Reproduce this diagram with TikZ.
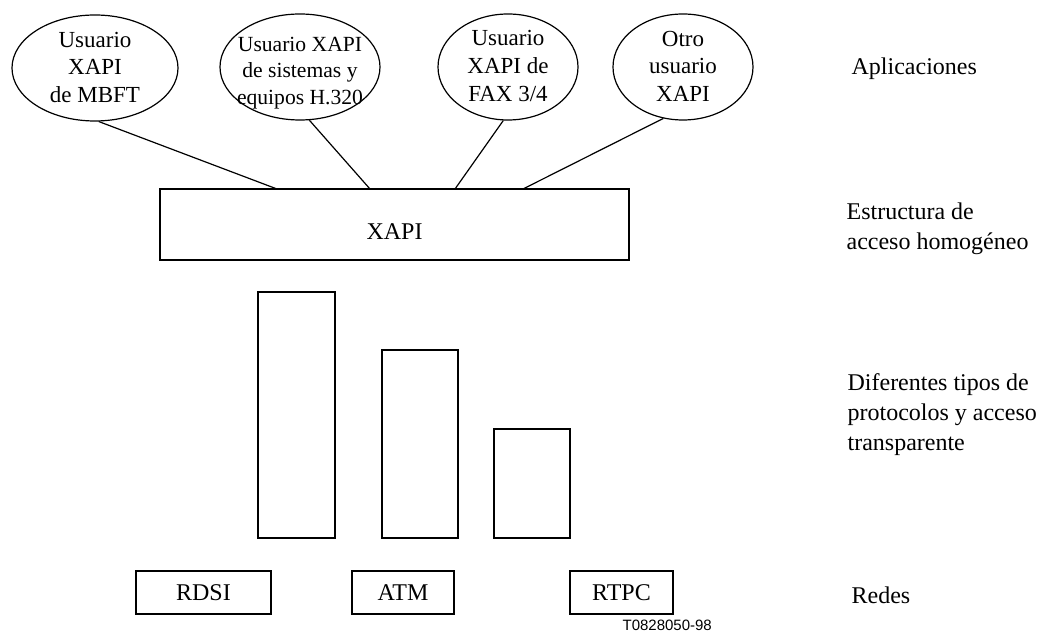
\documentclass[tikz,border=0pt]{standalone}
\usepackage{fontspec}
\setmainfont{Liberation Serif}
\newfontfamily\codefont{Liberation Sans}
\usetikzlibrary{shapes.geometric}
\begin{document}
\begin{tikzpicture}[x=0.5pt,y=-0.5pt,
  line width=0.6pt,
  app/.style={draw, ellipse, inner sep=0pt, minimum height=53pt},
  apptext/.style={inner sep=0pt, align=center, font=\fontsize{11.5}{13.8}\selectfont},
  box/.style={draw, rectangle, inner sep=0pt, font=\fontsize{12}{14}\selectfont},
  lbl/.style={anchor=north west, inner sep=0pt, align=left,
    font=\fontsize{12}{15}\selectfont}]
\useasboundingbox (0,0) rectangle (1039,635);

% application ellipses
\node[app, minimum width=83pt] (e1) at (95,68) {};
\node[app, minimum width=80pt] (e2) at (300,67) {};
\node[app, minimum width=70pt] (e3) at (508,67) {};
\node[app, minimum width=70pt] (e4) at (683,67) {};
\node[apptext] (e1t) at ([yshift=0.3pt]e1.center) {Usuario\\XAPI\\de MBFT};
\node[apptext, font=\fontsize{10.8}{13.2}\selectfont] (e2t) at ([yshift=-3pt]e2.center)
  {Usuario XAPI\\de sistemas y\\equipos H.320};
\node[apptext] (e3t) at ([yshift=0.5pt]e3.center) {Usuario\\XAPI de\\FAX 3/4};
\node[apptext] (e4t) at ([yshift=0.5pt]e4.center) {Otro\\usuario\\XAPI};

% common access structure
\node[box, minimum width=234.5pt, minimum height=35.5pt] (xapi) at (394.5,224.5) {};
\node[box, draw=none] (xapit) at ([yshift=-3.5pt]xapi.center) {XAPI};
\coordinate (t1) at (277,189);
\coordinate (t2) at (370,189);
\coordinate (t3) at (455,189);
\coordinate (t4) at (523,189);
\draw (e1.-86) -- (t1);
\draw (e2.-80) -- (t2);
\draw (e3.-95) -- (t3);
\draw (e4.-111) -- (t4);

% protocol bars
\node[box, minimum width=38.5pt, minimum height=123pt] (p1) at (296.5,415) {};
\node[box, minimum width=38pt, minimum height=94pt] (p2) at (420,444) {};
\node[box, minimum width=38pt, minimum height=54.5pt] (p3) at (532,483.5) {};

% networks
\node[box, minimum width=67.5pt, minimum height=21.5pt] (n1) at (203.5,592.5) {RDSI};
\node[box, minimum width=51pt, minimum height=21.5pt] (n2) at (403,592.5) {ATM};
\node[box, minimum width=51.5pt, minimum height=21.5pt] (n3) at (621.5,592.5) {RTPC};
\node[anchor=north west, inner sep=0pt, font=\codefont\fontsize{7.5}{8}\selectfont] (code) at (622,619) {T0828050-98};

% layer labels
\node[lbl] (l1) at (851,57) {Aplicaciones};
\node[lbl] (l2) at (846,202) {Estructura de\\acceso homogéneo};
\node[lbl] (l3) at (847,373) {Diferentes tipos de\\protocolos y acceso\\transparente};
\node[lbl] (l4) at (851,586) {Redes};
\end{tikzpicture}
\end{document}
